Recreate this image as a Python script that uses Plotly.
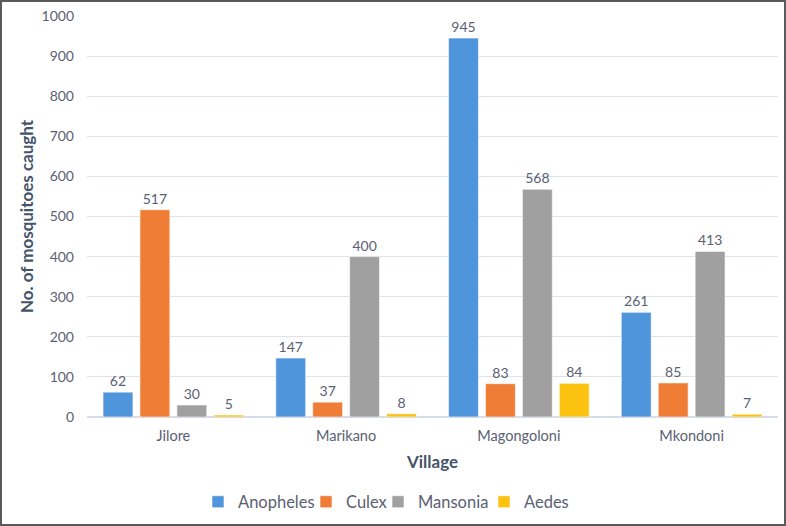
import plotly.graph_objects as go

villages = ["Jilore", "Marikano", "Magongoloni", "Mkondoni"]
species = ["Anopheles", "Culex", "Mansonia", "Aedes"]
anopheles = [62, 147, 945, 261]
culex = [517, 37, 83, 85]
mansonia = [30, 400, 568, 413]
aedes = [5, 8, 84, 7]
values = [anopheles, culex, mansonia, aedes]
colors = ["#4f95db", "#ef7d35", "#a0a0a0", "#fcc210"]
yticks = list(range(0, 1001, 100))

font_family = "Lato, 'Open Sans', sans-serif"
text_color = "#5a6172"
W, H = 786, 526
ml, mr, mt, mb = 87, 8, 16, 109
pw = W - ml - mr
ph = H - mt - mb

legend_names = ["legend", "legend2", "legend3", "legend4"]
legend_px = [198, 306, 378, 484]  # left edge of each legend box (screen px)

fig = go.Figure()
for name, vals, col, lg in zip(species, values, colors, legend_names):
    fig.add_trace(go.Bar(
        x=villages, y=vals, name=name, legend=lg, showlegend=True,
        marker=dict(color=col, line=dict(color="rgba(255,255,255,0.6)", width=1)),
        text=[str(v) for v in vals], textposition="outside",
        textfont=dict(size=14, color=text_color, family=font_family),
        cliponaxis=False,
    ))

legend_y = -(502 - (H - mb)) / ph
legends = {}
for lg, px in zip(legend_names, legend_px):
    legends[lg] = dict(
        orientation="h", x=(px - ml) / pw, xanchor="left", y=legend_y,
        yanchor="middle", font=dict(size=16.5, color=text_color),
        itemwidth=30, bgcolor="rgba(0,0,0,0)", visible=True,
    )

fig.update_layout(
    width=W, height=H, showlegend=True,
    margin=dict(l=ml, r=mr, t=mt, b=mb, autoexpand=False),
    paper_bgcolor="white", plot_bgcolor="white",
    barmode="group", bargap=0.145, bargroupgap=0.19,
    font=dict(family=font_family, color=text_color),
    xaxis=dict(
        title=dict(text="<b>Village</b>", font=dict(size=17, color="#44546A"), standoff=13),
        tickfont=dict(size=14.5, color=text_color),
        ticklabelstandoff=8,
        showgrid=False, showline=False, ticks="",
    ),
    yaxis=dict(
        title=dict(text="<b>No. of mosquitoes caught</b>", font=dict(size=17, color="#44546A"), standoff=3),
        range=[0, 1000], tickvals=yticks, ticktext=[str(t) for t in yticks],
        tickfont=dict(size=14, color=text_color),
        ticklabelstandoff=12,
        gridcolor="#dde3ea", gridwidth=1, zeroline=True, zerolinecolor="#d6dde6",
        showline=False, ticks="",
    ),
    shapes=[dict(
        type="rect", xref="paper", yref="paper",
        x0=-(ml - 1) / pw, x1=(W - ml - 1) / pw,
        y0=-(mb - 1) / ph, y1=(ph + mt - 1) / ph,
        line=dict(color="#5a5a5a", width=2), fillcolor="rgba(0,0,0,0)", layer="above",
    )],
    **legends,
)

fig.write_html("out.html", config={"displayModeBar": False},
               post_script="document.body.style.margin='0px';")
